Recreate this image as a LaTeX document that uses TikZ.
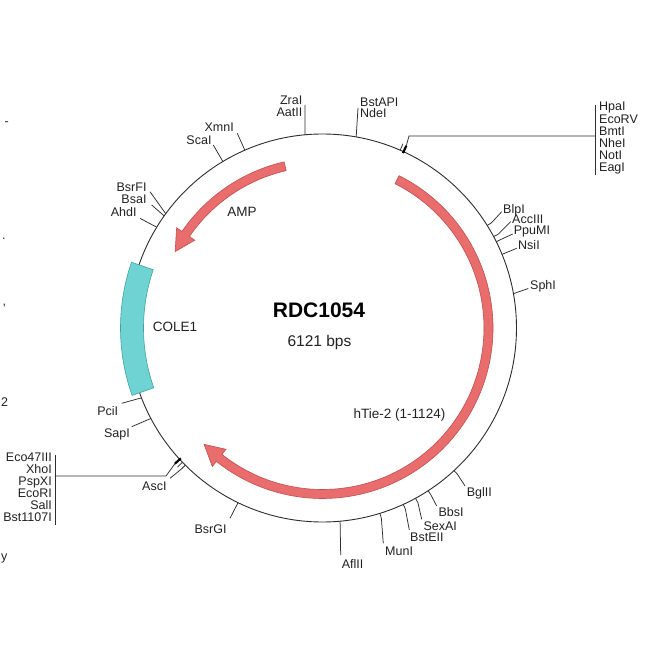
\documentclass[tikz,border=0pt]{standalone}
\usepackage{fontspec}
\setmainfont{Liberation Sans}
\definecolor{ringc}{HTML}{2E2E2E}
\definecolor{txt}{HTML}{222222}
\definecolor{redf}{HTML}{EA6D6D}
\definecolor{redd}{HTML}{C24F4F}
\definecolor{cyanf}{HTML}{6FD3D3}
\definecolor{cyand}{HTML}{3FA3A3}
\begin{document}
\begin{tikzpicture}[x=1pt,y=1pt,
  site/.style={inner sep=0pt,font=\fontsize{12.5}{12}\selectfont,text=txt},
  flab/.style={inner sep=0pt,font=\fontsize{13.5}{14}\selectfont,text=txt},
  tick/.style={draw=ringc,line width=0.75pt},
  thickmark/.style={draw=black,line width=2.2pt},
  feat/.style={fill=redf,draw=redd,line width=0.6pt},
  orib/.style={fill=cyanf,draw=cyand,line width=0.6pt}]
\useasboundingbox[fill=white] (-322.5,-322) rectangle (327.5,328);

% backbone
\draw[ringc,line width=0.9pt] (0,0) circle[radius=194];

% features
\draw[feat] (103:170.5) arc[start angle=103,end angle=145.5,radius=170.5]
  -- (145.5:177) -- (152.6:166) -- (145.5:155) -- (145.5:161.5)
  arc[start angle=145.5,end angle=103,radius=161.5] -- cycle;
\draw[feat] (63.3:170.5) arc[start angle=63.3,end angle=-128.5,radius=170.5]
  -- (-128.5:177) -- (-135.5:166) -- (-128.5:155) -- (-128.5:161.5)
  arc[start angle=-128.5,end angle=63.3,radius=161.5] -- cycle;
\draw[orib] (161:202) arc[start angle=161,end angle=199.5,radius=202]
  -- (199.5:179) arc[start angle=199.5,end angle=161,radius=179] -- cycle;

% center texts
\node[inner sep=0pt,font=\fontsize{21}{22}\selectfont\bfseries,text=black,anchor=base] (title) at (-3.5,10) {RDC1054};
\node[inner sep=0pt,font=\fontsize{15.5}{16}\selectfont,text=txt,anchor=base] (size) at (-3,-19) {6121 bps};
\node[flab,anchor=base] (fCOLE) at (-147.5,-4) {COLE1};
\node[flab,anchor=base] (fAMP) at (-80.5,111) {AMP};
\node[flab,anchor=base] (fTie) at (77,-90) {hTie-2 (1-1124)};

% ---- top ticks
\coordinate (rZA) at (95.2:194); \coordinate (eZA) at (-17.5,223);
\draw[tick] (rZA) -- (eZA);
\node[site,anchor=base east] (lZra) at (-20,223) {ZraI};
\node[site,anchor=base east] (lAat) at (-20,211) {AatII};

\coordinate (rBN) at (80:194); \coordinate (eBN) at (35.5,220);
\draw[tick] (rBN) -- (eBN);
\node[site,anchor=base west] (lBst) at (37.5,221) {BstAPI};
\node[site,anchor=base west] (lNde) at (37.5,210) {NdeI};

% top-right cluster
\coordinate (rC1) at (65.3:192.5); \coordinate (rC1o) at (65.3:200.5);
\coordinate (rC2) at (66.4:194); \coordinate (rC2o) at (66.4:201);
\coordinate (cC1) at (86.5,192); \coordinate (cC2) at (272.5,192);
\coordinate (bC1) at (272.5,223); \coordinate (bC2) at (272.5,153);
\draw[thickmark] (rC1) -- (rC1o);
\draw[tick] (rC2) -- (rC2o);
\draw[tick] (rC1o) -- (cC1) -- (cC2);
\draw[tick] (bC1) -- (bC2);
\node[site,anchor=base west] (lHpa) at (276.5,217) {HpaI};
\node[site,anchor=base west] (lEcoRV) at (276.5,204.9) {EcoRV};
\node[site,anchor=base west] (lBmt) at (276.5,192.8) {BmtI};
\node[site,anchor=base west] (lNhe) at (276.5,180.7) {NheI};
\node[site,anchor=base west] (lNot) at (276.5,168.6) {NotI};
\node[site,anchor=base west] (lEag) at (276.5,156.5) {EagI};

% ---- right ticks
\coordinate (rBlp) at (31.9:194); \coordinate (mBlp) at (31.9:199); \coordinate (eBlp) at (179.2,116.3);
\draw[tick] (rBlp) -- (mBlp) -- (eBlp);
\node[site,anchor=base west] (lBlp) at (180.5,114.7) {BlpI};
\coordinate (rAcc) at (28.1:194); \coordinate (mAcc) at (28.1:199); \coordinate (eAcc) at (188.2,106.3);
\draw[tick] (rAcc) -- (mAcc) -- (eAcc);
\node[site,anchor=base west] (lAcc) at (189.5,104) {AccIII};
\coordinate (rPpu) at (26.4:194); \coordinate (mPpu) at (26.4:199); \coordinate (ePpu) at (190.2,94);
\draw[tick] (rPpu) -- (mPpu) -- (ePpu);
\node[site,anchor=base west] (lPpu) at (191.2,93) {PpuMI};
\coordinate (rNsi) at (22.3:194); \coordinate (eNsi) at (194.2,79.7);
\draw[tick] (rNsi) -- (eNsi);
\node[site,anchor=base west] (lNsi) at (195.5,78) {NsiI};
\coordinate (rSph) at (10.2:194); \coordinate (eSph) at (205.8,39.5);
\draw[tick] (rSph) -- (eSph);
\node[site,anchor=base west] (lSph) at (207.5,38) {SphI};

% ---- bottom-right ticks
\coordinate (rBgl) at (-47.3:194); \coordinate (mBgl) at (-47.3:199); \coordinate (eBgl) at (142.5,-158);
\draw[tick] (rBgl) -- (mBgl) -- (eBgl);
\node[site,anchor=base west] (lBgl) at (144.2,-168.7) {BglII};
\coordinate (rBbs) at (-57:194); \coordinate (mBbs) at (-57:199); \coordinate (eBbs) at (114.2,-178);
\draw[tick] (rBbs) -- (mBbs) -- (eBbs);
\node[site,anchor=base west] (lBbs) at (115.8,-188.7) {BbsI};
\coordinate (rSex) at (-61.35:194); \coordinate (mSex) at (-61.35:199); \coordinate (eSex) at (99.2,-191.3);
\draw[tick] (rSex) -- (mSex) -- (eSex);
\node[site,anchor=base west] (lSex) at (100.8,-202) {SexAI};
\coordinate (rBse) at (-65.4:194); \coordinate (mBse) at (-65.4:199); \coordinate (eBse) at (86.8,-202);
\draw[tick] (rBse) -- (mBse) -- (eBse);
\node[site,anchor=base west] (lBse) at (87.5,-213.7) {BstEII};
\coordinate (rMun) at (-72.8:194); \coordinate (mMun) at (-72.8:199); \coordinate (eMun) at (60.8,-215.3);
\draw[tick] (rMun) -- (mMun) -- (eMun);
\node[site,anchor=base west] (lMun) at (62.5,-227) {MunI};
\coordinate (rAfl) at (-84.8:194); \coordinate (eAfl) at (18.2,-227);
\draw[tick] (rAfl) -- (eAfl);
\node[site,anchor=base west] (lAfl) at (19.2,-240.3) {AflII};

% ---- bottom-left ticks
\coordinate (rPci) at (201.1:194); \coordinate (ePci) at (-200.8,-75.3);
\draw[tick] (rPci) -- (ePci);
\node[site,anchor=base east] (lPci) at (-204.2,-87) {PciI};
\coordinate (rSap) at (207.8:194); \coordinate (eSap) at (-190.8,-98.7);
\draw[tick] (rSap) -- (eSap);
\node[site,anchor=base east] (lSap) at (-192.5,-109.3) {SapI};
\coordinate (rAsc) at (225:194); \coordinate (mAsc) at (225:199); \coordinate (eAsc) at (-152.5,-150.3);
\draw[tick] (rAsc) -- (mAsc) -- (eAsc);
\node[site,anchor=base east] (lAsc) at (-155.8,-162) {AscI};
\coordinate (rBsg) at (244.2:194); \coordinate (eBsg) at (-92.5,-190.3);
\draw[tick] (rBsg) -- (eBsg);
\node[site,anchor=base east] (lBsg) at (-95.8,-205.3) {BsrGI};

% left cluster
\coordinate (rL1) at (222.6:192.5); \coordinate (rL1o) at (222.6:200.5);
\coordinate (rL2) at (223.8:194); \coordinate (rL2o) at (223.8:201);
\coordinate (cL1) at (-156.5,-148); \coordinate (cL2) at (-267.5,-148);
\coordinate (bL1) at (-267.5,-127); \coordinate (bL2) at (-267.5,-197);
\draw[thickmark] (rL1) -- (rL1o);
\draw[tick] (rL2) -- (rL2o);
\draw[tick] (rL1o) -- (cL1) -- (cL2);
\draw[tick] (bL1) -- (bL2);
\node[site,anchor=base east] (lEco47) at (-270.5,-133) {Eco47III};
\node[site,anchor=base east] (lXho) at (-270.5,-145) {XhoI};
\node[site,anchor=base east] (lPsp) at (-270.5,-157) {PspXI};
\node[site,anchor=base east] (lEcoRI) at (-270.5,-169) {EcoRI};
\node[site,anchor=base east] (lSal) at (-270.5,-181) {SalI};
\node[site,anchor=base east] (lBst11) at (-270.5,-193) {Bst1107I};

% ---- top-left ticks
\coordinate (rSca) at (120.9:194); \coordinate (eSca) at (-109.2,183);
\draw[tick] (rSca) -- (eSca);
\node[site,anchor=base east] (lSca) at (-110.8,183) {ScaI};
\coordinate (rXmn) at (113.6:194); \coordinate (eXmn) at (-85.2,194.7);
\draw[tick] (rXmn) -- (eXmn);
\node[site,anchor=base east] (lXmn) at (-88.5,196.3) {XmnI};
\coordinate (rBsf) at (143.9:194); \coordinate (eBsf) at (-172.5,136.3);
\draw[tick] (rBsf) -- (eBsf);
\node[site,anchor=base east] (lBsf) at (-175.8,136.3) {BsrFI};
\coordinate (rBsa) at (144.7:194); \coordinate (eBsa) at (-170.8,123);
\draw[tick] (rBsa) -- (eBsa);
\node[site,anchor=base east] (lBsa) at (-175.8,124.7) {BsaI};
\coordinate (rAhd) at (148.7:194); \coordinate (eAhd) at (-182.5,109.7);
\draw[tick] (rAhd) -- (eAhd);
\node[site,anchor=base east] (lAhd) at (-185.8,111.3) {AhdI};

% fragments at the left edge
\node[site,anchor=west] (frag1) at (-318,204) {-};
\node[site,anchor=west] (frag2) at (-320.5,89) {.};
\node[site,anchor=west] (frag3) at (-320,22) {,};
\node[site,anchor=base west] (frag4) at (-321.5,-78.5) {2};
\node[site,anchor=base west] (frag5) at (-321.5,-232) {y};
\end{tikzpicture}
\end{document}
